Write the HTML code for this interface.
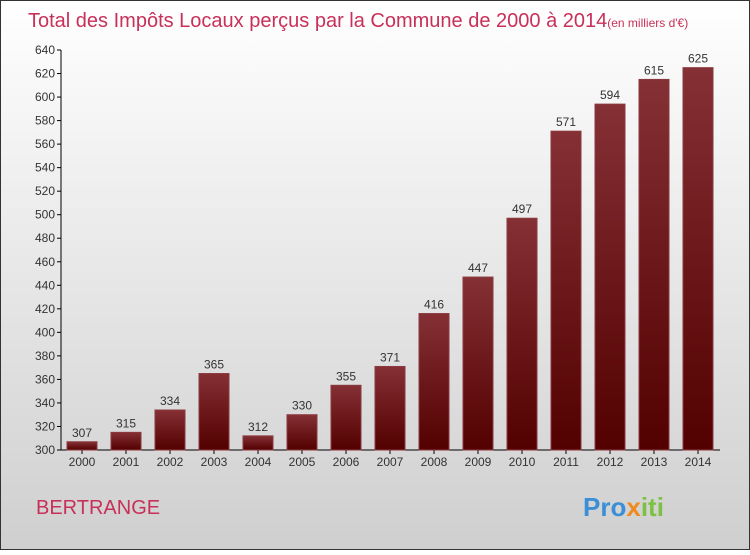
<!DOCTYPE html>
<html><head><meta charset="utf-8"><style>
body{margin:0;width:750px;height:550px;overflow:hidden;font-family:"Liberation Sans",sans-serif}
</style></head><body>
<svg width="750" height="550" xmlns="http://www.w3.org/2000/svg">
<defs>
<linearGradient id="bg" x1="0" y1="0" x2="0" y2="1"><stop offset="0" stop-color="#ffffff"/><stop offset="1" stop-color="#cfcfcf"/></linearGradient>
<linearGradient id="bar" x1="0" y1="0" x2="0" y2="1"><stop offset="0" stop-color="#853035"/><stop offset="1" stop-color="#530000"/></linearGradient>
</defs>
<rect x="0.5" y="0.5" width="749" height="549" fill="url(#bg)" stroke="#333"/>
<text x="28" y="27" font-size="20" fill="#c8305a">Total des Impôts Locaux perçus par la Commune de 2000 à 2014<tspan font-size="12">(en milliers d'€)</tspan></text>
<g id="axes"></g>
<g id="bars"></g>
<text x="36" y="514" font-size="20" fill="#c8305a">BERTRANGE</text>
<text x="583" y="516" font-size="26" font-weight="bold"><tspan fill="#3a8fd6">Pro</tspan><tspan fill="#f08a1c">x</tspan><tspan fill="#7cc242">iti</tspan></text>
</svg>
<script>
const years=["2000","2001","2002","2003","2004","2005","2006","2007","2008","2009","2010","2011","2012","2013","2014"];
const values=[307,315,334,365,312,330,355,371,416,447,497,571,594,615,625];
const yTicks=[300,320,340,360,380,400,420,440,460,480,500,520,540,560,580,600,620,640];
const NS="http://www.w3.org/2000/svg";
const y=v=>450-(v-300)*400/340;
const x=i=>61+6+i*44;
function mk(t,a,p){const e=document.createElementNS(NS,t);for(const k in a)e.setAttribute(k,a[k]);p.appendChild(e);return e;}
const ax=document.getElementById('axes'),bg=document.getElementById('bars');
const yl=mk('line',{x1:61,y1:50,x2:61,y2:450,stroke:'#000'},ax);


const xl=mk('line',{x1:61,y1:450,x2:720,y2:450,stroke:'#000'},ax);


yTicks.forEach(v=>{
 mk('line',{x1:57,y1:y(v),x2:61,y2:y(v),stroke:'#000'},ax);
 const t=mk('text',{x:55,y:y(v)+4,'font-size':12,fill:'#333','text-anchor':'end'},ax);
 t.textContent=v;
 
 
});
years.forEach((yr,i)=>{
 const v=values[i];
 const r=mk('rect',{x:x(i),y:y(v),width:30,height:450-y(v),fill:'url(#bar)',stroke:'#8a3a3f','stroke-width':1},bg);
 
 
 const l=mk('text',{x:x(i)+15,y:y(v)-5,'font-size':12,fill:'#333','text-anchor':'middle'},bg);
 l.textContent=v;
 
 
 mk('line',{x1:x(i)+15,y1:450,x2:x(i)+15,y2:454,stroke:'#000'},ax);
 const t=mk('text',{x:x(i)+15,y:466,'font-size':12,fill:'#333','text-anchor':'middle'},ax);
 t.textContent=yr;
 
 
});
</script>
</body></html>
